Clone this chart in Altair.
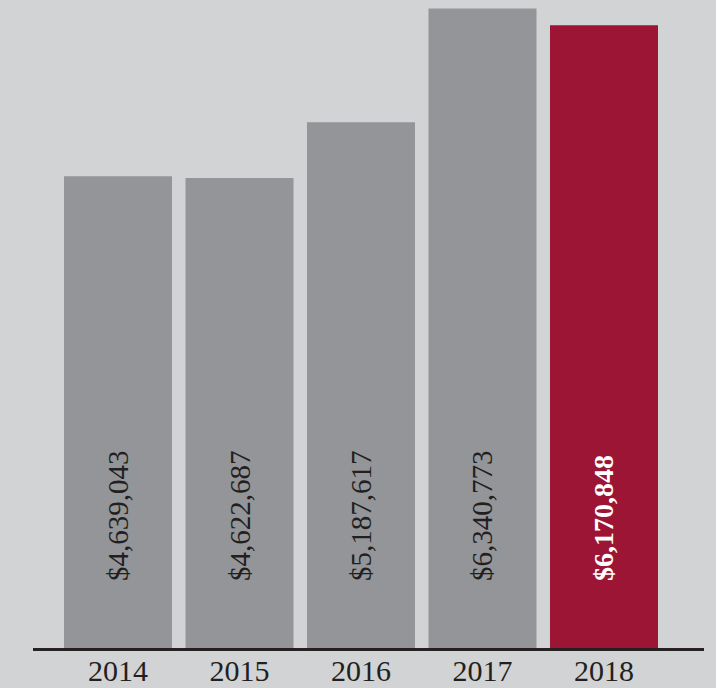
import altair as alt
import pandas as pd

years = ["2014", "2015", "2016", "2017", "2018"]
values = [4639043, 4622687, 5187617, 6340773, 6170848]
labels = ["$4,639,043", "$4,622,687", "$5,187,617", "$6,340,773", "$6,170,848"]
highlight = [False, False, False, False, True]

df = pd.DataFrame({"year": years, "value": values, "label": labels, "hl": highlight})

GRAY = "#939598"
RED = "#9c1535"
TEXT = "#231f20"
FONT = "Liberation Serif"

x = alt.X("year:N", sort=years, title=None,
          scale=alt.Scale(paddingInner=0.111, paddingOuter=0),
          axis=alt.Axis(labelAngle=0, ticks=False, domain=False, labelPadding=6,
                        labelFont=FONT, labelFontSize=30, labelColor=TEXT))
yscale = alt.Scale(domain=[-161680, 6425940], zero=False, nice=False)

base = alt.Chart(df)

bars = base.mark_bar().encode(
    x=x,
    y=alt.Y("value:Q", scale=yscale, axis=None),
    y2=alt.datum(-161680),
    color=alt.Color("hl:N", scale=alt.Scale(domain=[False, True], range=[GRAY, RED]), legend=None),
)

text_normal = base.transform_filter("!datum.hl").mark_text(
    angle=270, align="left", baseline="middle", font=FONT, fontSize=29, color=TEXT, dy=1
).encode(
    x=alt.X("year:N", sort=years),
    y=alt.value(581),
    text="label:N",
)

text_bold = base.transform_filter("datum.hl").mark_text(
    angle=270, align="left", baseline="middle", font=FONT, fontSize=28, color="#ffffff",
    fontWeight="bold", dy=1
).encode(
    x=alt.X("year:N", sort=years),
    y=alt.value(581),
    text="label:N",
)

rule = base.mark_rule(color=TEXT, strokeWidth=2).encode(
    x=alt.value(-31), x2=alt.value(640), y=alt.value(649.5)
)

chart = alt.layer(bars, text_normal, text_bold, rule).properties(
    width=594, height=650,
    autosize=alt.AutoSizeParams(type="none"),
    padding={"left": 64, "top": 0, "right": 58, "bottom": 38},
    background="#d1d3d4",
).configure_view(stroke=None)

chart.save("out.html", embed_options={"renderer": "svg", "actions": False})
